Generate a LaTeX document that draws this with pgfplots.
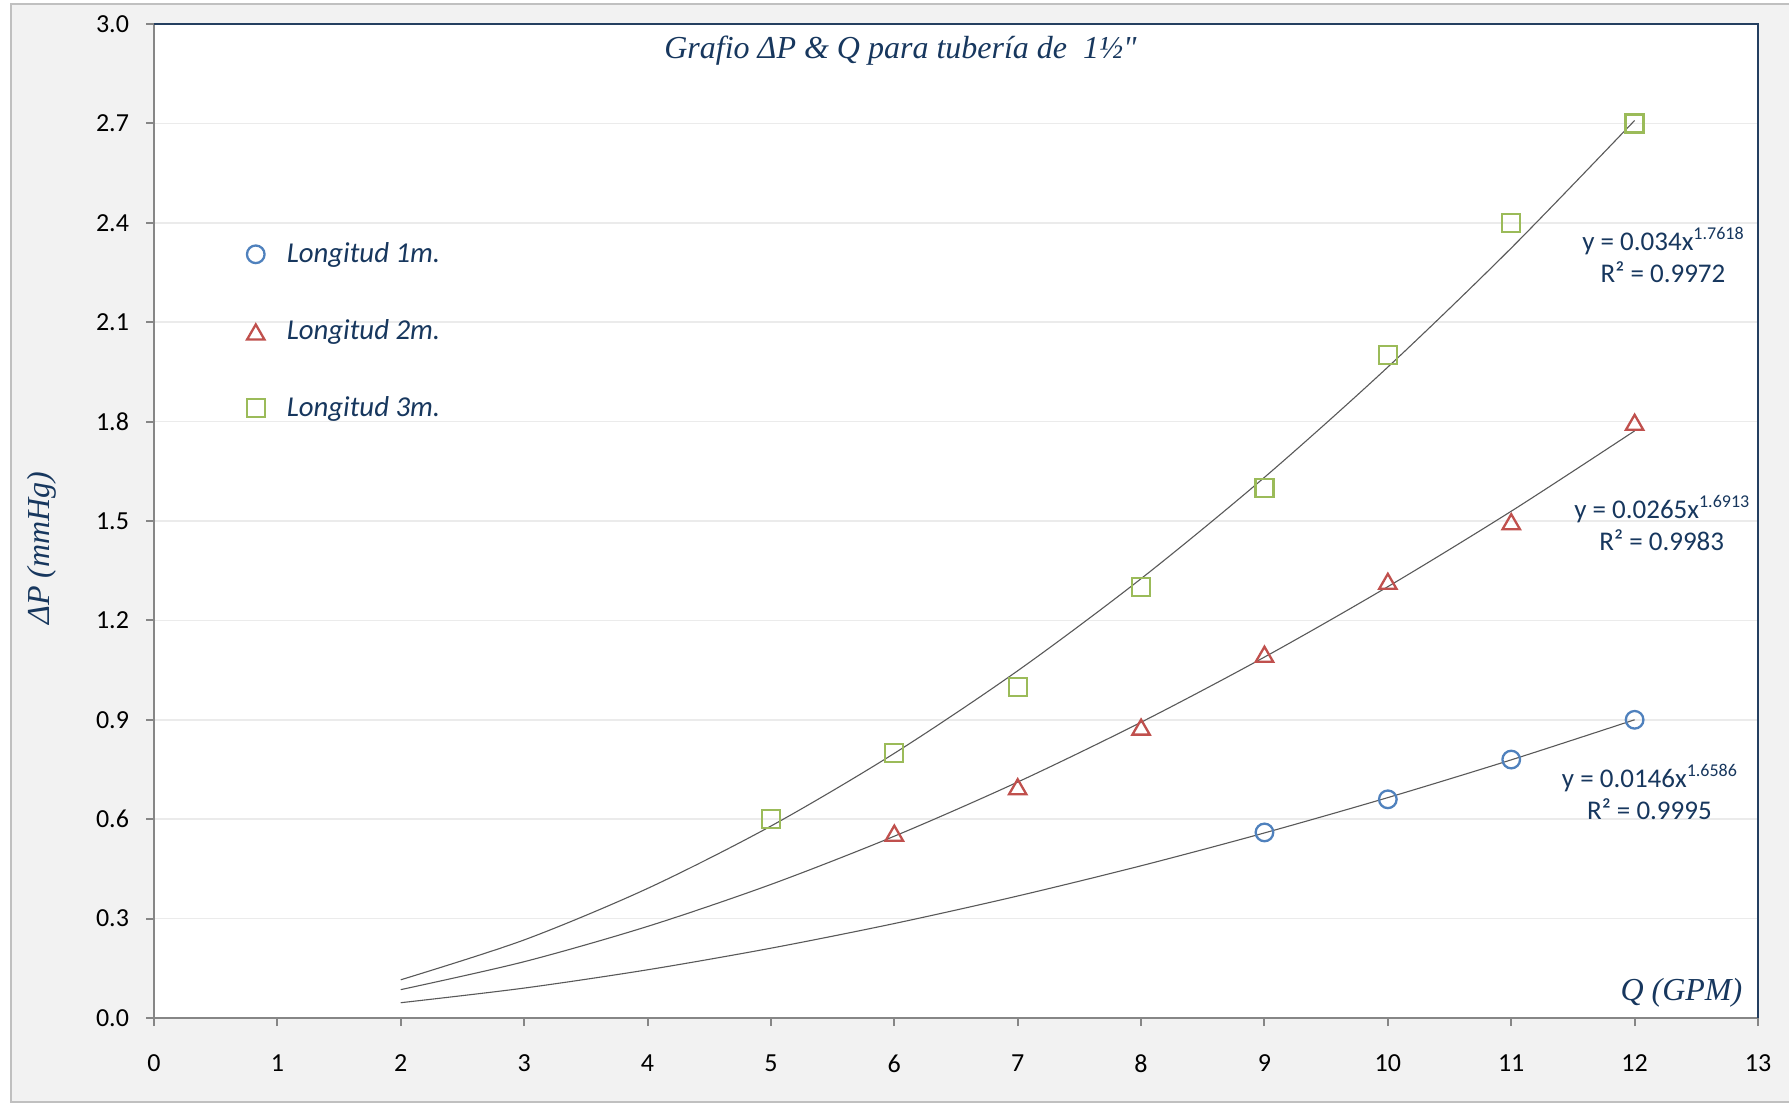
\documentclass[border=0pt]{standalone}
\usepackage{pgfplots}
\pgfplotsset{compat=1.18}
\usepackage{fontspec}
\setmainfont{Carlito}
\newfontfamily\serifit{Liberation Serif}

\definecolor{navy}{HTML}{17375E}
\definecolor{bgGray}{HTML}{F2F2F2}
\definecolor{frameGray}{HTML}{C0C0C0}
\definecolor{axisGray}{HTML}{868686}
\definecolor{frameBlue}{HTML}{243F60}
\definecolor{gridGray}{HTML}{EBEBEB}
\definecolor{serA}{HTML}{4F81BD}
\definecolor{serB}{HTML}{C0504D}
\definecolor{serC}{HTML}{9BBB59}
\definecolor{trend}{HTML}{595959}

\begin{document}
\begin{tikzpicture}
\path[use as bounding box] (0pt,0pt) rectangle (894.5pt,551.5pt);
\fill[white] (0pt,0pt) rectangle (894.5pt,551.5pt);
\filldraw[fill=bgGray, draw=frameGray, line width=0.6pt] (5.5pt,0.5pt) rectangle (900pt,549.5pt);

\begin{axis}[
  at={(77pt,42.5pt)}, anchor=south west,
  scale only axis, width=802pt, height=497pt,
  xmin=0, xmax=13, ymin=0, ymax=3,
  xtick={0,1,2,3,4,5,6,7,8,9,10,11,12,13},
  ytick={0,0.3,0.6,0.9,1.2,1.5,1.8,2.1,2.4,2.7,3.0},
  /pgf/number format/assume math mode=true,
  ticklabel style={font=\fontsize{13}{15}\selectfont, text=black},
  xticklabel style={yshift=-11pt},
  yticklabel style={/pgf/number format/fixed, /pgf/number format/fixed zerofill,
    /pgf/number format/precision=1, xshift=-5pt},
  axis background/.style={fill=white},
  axis line style={draw=none},
  tick pos=left, tick align=outside, major tick length=4pt,
  major tick style={draw=axisGray, line width=1pt},
  ymajorgrids, major grid style={draw=gridGray, line width=0.75pt},
  clip=false,
  legend style={at={(axis cs:0.70,2.365)}, anchor=north west, draw=none, fill=none,
    font=\fontsize{14.4}{17}\selectfont\itshape, text=navy, row sep=23pt,
    /tikz/every odd column/.append style={column sep=9pt}},
  legend cell align=left,
  legend image code/.code={\draw plot coordinates {(0.25cm,0cm)};},
]

% power-law trend lines
\addplot[trend, line width=0.55pt, smooth, forget plot] coordinates {
  (2,0.0461)(3,0.0903)(4,0.1455)(5,0.2107)(6,0.2851)(7,0.3682)
  (8,0.4594)(9,0.5586)(10,0.6652)(11,0.7791)(12,0.9001)};
\addplot[trend, line width=0.55pt, smooth, forget plot] coordinates {
  (2,0.0856)(3,0.1699)(4,0.2764)(5,0.4031)(6,0.5487)(7,0.7121)
  (8,0.8926)(9,1.0893)(10,1.3018)(11,1.5295)(12,1.7720)};
\addplot[trend, line width=0.55pt, smooth, forget plot] coordinates {
  (2,0.1153)(3,0.2356)(4,0.3910)(5,0.5793)(6,0.7988)(7,1.0480)
  (8,1.3260)(9,1.6318)(10,1.9646)(11,2.3238)(12,2.7088)};

% measured pressure drops
\addplot[only marks, mark=o, serA, mark size=4.4pt, mark options={line width=1.15pt}] coordinates {
  (9,0.56)(10,0.66)(11,0.78)(12,0.90)};
\addlegendentry{Longitud 1m.}
\addplot[only marks, mark=triangle, serB, mark size=5pt, mark options={line width=1.15pt, yshift=-1.6pt}] coordinates {
  (6,0.56)(7,0.70)(8,0.88)(9,1.10)(10,1.32)(11,1.50)(12,1.80)};
\addlegendentry{Longitud 2m.}
\addplot[only marks, mark=square, serC, mark size=4.5pt, mark options={line width=1.15pt}] coordinates {
  (5,0.60)(6,0.80)(7,1.00)(8,1.30)(9,1.60)(10,2.00)(11,2.40)(12,2.70)};
\addlegendentry{Longitud 3m.}

% frame of the plot area
\draw[axisGray, line width=1pt] (rel axis cs:0,1) -- (rel axis cs:0,0) -- (rel axis cs:1,0);
\draw[frameBlue, line width=1pt] (rel axis cs:0,1) -- (rel axis cs:1,1) -- (rel axis cs:1,0);

% title and axis name
\node[font=\serifit\itshape\fontsize{16}{19}\selectfont, text=navy]
  at (axis cs:6.05,2.92) {Grafio ΔP \& Q para tubería de\ \ 1½"};
\node[font=\serifit\itshape\fontsize{16}{19}\selectfont, text=navy, anchor=east]
  at (axis cs:12.93,0.076) {Q (GPM)};

% trend-line equations
\node[font=\fontsize{13.5}{16}\selectfont, text=navy, align=center] at (axis cs:12.23,2.303)
  {y = 0.034x\raisebox{0.42em}{\fontsize{9}{9}\selectfont 1.7618}\\R² = 0.9972};
\node[font=\fontsize{13.5}{16}\selectfont, text=navy, align=center] at (axis cs:12.22,1.494)
  {y = 0.0265x\raisebox{0.42em}{\fontsize{9}{9}\selectfont 1.6913}\\R² = 0.9983};
\node[font=\fontsize{13.5}{16}\selectfont, text=navy, align=center] at (axis cs:12.12,0.682)
  {y = 0.0146x\raisebox{0.42em}{\fontsize{9}{9}\selectfont 1.6586}\\R² = 0.9995};
\end{axis}

\node[rotate=90, font=\serifit\itshape\fontsize{16}{19}\selectfont, text=navy] at (21pt,277.5pt) {ΔP (mmHg)};
\end{tikzpicture}
\end{document}
